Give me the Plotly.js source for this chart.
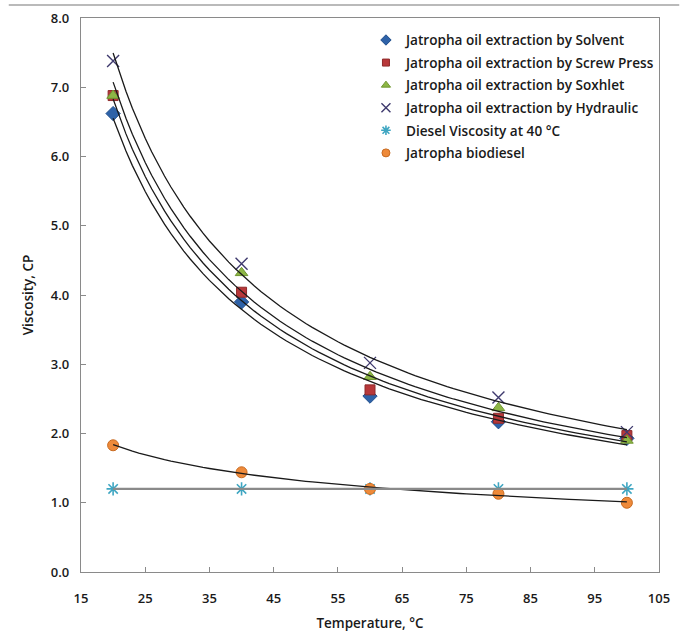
<!DOCTYPE html>
<html>
<head>
<meta charset="utf-8">
<script src="https://cdn.plot.ly/plotly-3.0.1.min.js"></script>
<style>html,body{margin:0;padding:0;background:#fff;}#chart{width:686px;height:633px;}</style>
</head>
<body>
<div id="chart"></div>
<script>
// ---- data ----
const temperature = [20, 40, 60, 80, 100];
const solvent    = [6.62, 3.90, 2.54, 2.17, 1.93];
const screwPress = [6.88, 4.04, 2.63, 2.22, 1.97];
const soxhlet    = [6.88, 4.32, 2.82, 2.37, 1.90];
const hydraulic  = [7.38, 4.45, 3.02, 2.52, 2.02];
const diesel     = [1.20, 1.20, 1.20, 1.20, 1.20];
const biodiesel  = [1.83, 1.44, 1.20, 1.13, 1.00];
const seriesNames = [
  'Jatropha oil extraction by Solvent',
  'Jatropha oil extraction by Screw Press',
  'Jatropha oil extraction by Soxhlet',
  'Jatropha oil extraction by Hydraulic',
  'Diesel Viscosity at 40 °C',
  'Jatropha biodiesel'
];
const xTicks = [15, 25, 35, 45, 55, 65, 75, 85, 95, 105];
const yTicks = [0, 1, 2, 3, 4, 5, 6, 7, 8];

// power-law trendline (least squares in log-log space), as a spreadsheet trendline
function powerFit(xs, ys) {
  const lx = xs.map(Math.log), ly = ys.map(Math.log);
  const n = xs.length;
  const mx = lx.reduce((a, b) => a + b, 0) / n, my = ly.reduce((a, b) => a + b, 0) / n;
  let sxy = 0, sxx = 0;
  for (let i = 0; i < n; i++) { sxy += (lx[i] - mx) * (ly[i] - my); sxx += (lx[i] - mx) ** 2; }
  const b = sxy / sxx, a = Math.exp(my - b * mx);
  const tx = [], ty = [];
  const x0 = xs[0], x1 = xs[n - 1];
  for (let k = 0; k <= 80; k++) { const x = x0 + (x1 - x0) * k / 80; tx.push(x); ty.push(a * Math.pow(x, b)); }
  return {x: tx, y: ty};
}

const markerDefs = [
  {symbol: 'diamond', color: '#2E62A8', size: 11, line: {color: '#1F4E8C', width: 1}},
  {symbol: 'square', color: '#B8383A', size: 10, line: {color: '#8E2A2A', width: 1}},
  {symbol: 'triangle-up', color: '#8DB645', size: 11, line: {color: '#6F9630', width: 1}},
  {symbol: 'x-thin', color: '#3F3A6E', size: 12, line: {color: '#3F3A6E', width: 1.4}},
  {symbol: 'asterisk', color: '#3FA6C2', size: 11, line: {color: '#3FA6C2', width: 1.6}},
  {symbol: 'circle', color: '#EE8A3A', size: 11, line: {color: '#C86A20', width: 1}}
];
const seriesData = [solvent, screwPress, soxhlet, hydraulic, diesel, biodiesel];

const traces = [];
seriesData.forEach((ys, i) => {
  traces.push({
    x: temperature, y: ys, name: seriesNames[i], type: 'scatter', mode: 'markers',
    marker: markerDefs[i], cliponaxis: false, showlegend: false
  });
});
// trendlines drawn over markers
[0, 1, 2, 3, 5].forEach(i => {
  const f = powerFit(temperature, seriesData[i]);
  traces.push({x: f.x, y: f.y, type: 'scatter', mode: 'lines', showlegend: false,
    hoverinfo: 'skip', line: {color: '#1a1a1a', width: 1.3}});
});
traces.push({x: [temperature[0], temperature[temperature.length - 1]],
  y: [diesel[0], diesel[diesel.length - 1]], type: 'scatter', mode: 'lines', showlegend: false,
  hoverinfo: 'skip', line: {color: '#8a8a8a', width: 2.2}});
// legend entries with the smaller legend-sized symbols
seriesNames.forEach((nm, i) => {
  const m = Object.assign({}, markerDefs[i], {size: markerDefs[i].size - 3});
  traces.push({x: [null], y: [null], name: nm, type: 'scatter', mode: 'markers',
    marker: m, legendgroup: 'g' + i, hoverinfo: 'skip'});
});

const tickFont = {family: 'Open Sans', size: 13, color: '#1a1a1a', weight: 600};
const layout = {
  width: 686, height: 633,
  margin: {l: 81, r: 27, t: 18, b: 61},
  paper_bgcolor: '#fff', plot_bgcolor: '#fff',
  showlegend: true,
  legend: {x: 0.493, y: 0.988, xanchor: 'left', yanchor: 'top', bgcolor: 'rgba(0,0,0,0)',
    font: {family: 'Open Sans', size: 13.6, color: '#1a1a1a', weight: 600},
    itemwidth: 30, tracegroupgap: 1.9, itemsizing: 'trace'},
  xaxis: {range: [15, 105], tickvals: xTicks, ticktext: xTicks.map(String),
    ticks: 'inside', ticklen: 5, tickcolor: '#8a8a8a', showgrid: false, zeroline: false,
    showline: true, linecolor: '#8a8a8a', linewidth: 1.2, mirror: true,
    tickfont: tickFont, ticklabelstandoff: 14,
    title: {text: 'Temperature, °C', font: {family: 'Open Sans', size: 13.5, color: '#1a1a1a', weight: 600}, standoff: 12}},
  yaxis: {range: [0, 8], tickvals: yTicks, ticktext: yTicks.map(v => v.toFixed(1)),
    ticks: 'inside', ticklen: 5, tickcolor: '#8a8a8a', showgrid: false, zeroline: false,
    showline: true, linecolor: '#8a8a8a', linewidth: 1.2, mirror: true,
    tickfont: tickFont, ticklabelstandoff: 8,
    title: {text: 'Viscosity, CP', font: {family: 'Open Sans', size: 13.5, color: '#1a1a1a', weight: 600}, standoff: 14}},
  shapes: [
    {type: 'line', xref: 'paper', yref: 'paper', x0: -0.125, x1: 1.035, y0: 1.0235, y1: 1.0235,
      line: {color: '#777', width: 1.2}}
  ]
};
Plotly.newPlot('chart', traces, layout, {displayModeBar: false, staticPlot: true});
</script>
</body>
</html>
